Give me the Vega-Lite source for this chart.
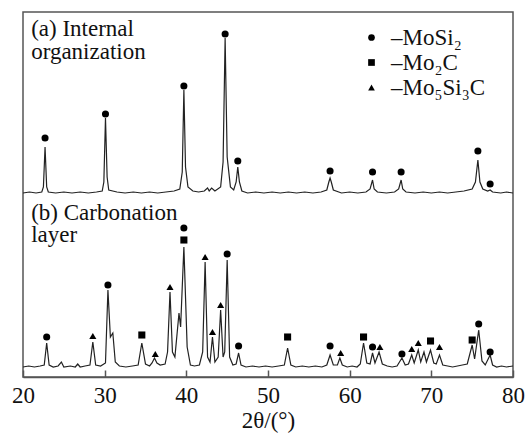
{
  "$schema": "https://vega.github.io/schema/vega-lite/v6.json",
  "width": 490,
  "height": 365,
  "autosize": "none",
  "padding": {"left": 23, "top": 12, "right": 17, "bottom": 57},
  "config": {
    "view": {"stroke": "#555", "strokeWidth": 1.5},
    "font": "Liberation Serif"
  },
  "datasets": {
    "tr": [
      {"s":"a","t":20.0,"i":184},{"s":"a","t":20.8,"i":185},{"s":"a","t":21.6,"i":184},{"s":"a","t":22.3,"i":185},{"s":"a","t":22.5,"i":190},{"s":"a","t":22.7,"i":230},{"s":"a","t":22.9,"i":190},{"s":"a","t":23.1,"i":185},{"s":"a","t":24,"i":184},{"s":"a","t":25,"i":185},{"s":"a","t":26,"i":184},{"s":"a","t":27,"i":185},{"s":"a","t":28,"i":184},{"s":"a","t":29,"i":185},{"s":"a","t":29.7,"i":186},{"s":"a","t":29.9,"i":195},{"s":"a","t":30.1,"i":259},{"s":"a","t":30.3,"i":200},{"s":"a","t":30.5,"i":187},{"s":"a","t":31.5,"i":185},{"s":"a","t":32.5,"i":184},{"s":"a","t":33.5,"i":185},{"s":"a","t":34.5,"i":184},{"s":"a","t":35.5,"i":185},{"s":"a","t":36.5,"i":184},{"s":"a","t":37.5,"i":185},{"s":"a","t":38.5,"i":186},{"s":"a","t":39.2,"i":188},{"s":"a","t":39.5,"i":205},{"s":"a","t":39.7,"i":287},{"s":"a","t":39.9,"i":210},{"s":"a","t":40.2,"i":190},{"s":"a","t":40.8,"i":186},{"s":"a","t":41.5,"i":185},{"s":"a","t":42.2,"i":186},{"s":"a","t":42.6,"i":189},{"s":"a","t":42.8,"i":186},{"s":"a","t":43.1,"i":189},{"s":"a","t":43.5,"i":186},{"s":"a","t":44.2,"i":190},{"s":"a","t":44.5,"i":215},{"s":"a","t":44.75,"i":339},{"s":"a","t":45.0,"i":220},{"s":"a","t":45.4,"i":190},{"s":"a","t":45.8,"i":187},{"s":"a","t":46.1,"i":195},{"s":"a","t":46.3,"i":210},{"s":"a","t":46.5,"i":195},{"s":"a","t":46.8,"i":186},{"s":"a","t":47.5,"i":184},{"s":"a","t":48.5,"i":185},{"s":"a","t":49.5,"i":184},{"s":"a","t":50.5,"i":185},{"s":"a","t":51.5,"i":184},{"s":"a","t":52.5,"i":185},{"s":"a","t":53.5,"i":184},{"s":"a","t":54.5,"i":185},{"s":"a","t":55.5,"i":184},{"s":"a","t":56.5,"i":185},{"s":"a","t":57.2,"i":187},{"s":"a","t":57.45,"i":195},{"s":"a","t":57.6,"i":199},{"s":"a","t":57.75,"i":195},{"s":"a","t":58.0,"i":187},{"s":"a","t":59,"i":184},{"s":"a","t":60,"i":185},{"s":"a","t":61,"i":184},{"s":"a","t":62,"i":185},{"s":"a","t":62.5,"i":188},{"s":"a","t":62.8,"i":197},{"s":"a","t":63.0,"i":188},{"s":"a","t":63.4,"i":185},{"s":"a","t":64.5,"i":184},{"s":"a","t":65.5,"i":185},{"s":"a","t":66.0,"i":188},{"s":"a","t":66.3,"i":197},{"s":"a","t":66.5,"i":188},{"s":"a","t":66.9,"i":185},{"s":"a","t":68,"i":184},{"s":"a","t":69,"i":185},{"s":"a","t":70,"i":184},{"s":"a","t":71,"i":185},{"s":"a","t":72,"i":184},{"s":"a","t":73,"i":185},{"s":"a","t":74,"i":186},{"s":"a","t":75.0,"i":188},{"s":"a","t":75.4,"i":195},{"s":"a","t":75.7,"i":217},{"s":"a","t":75.95,"i":195},{"s":"a","t":76.3,"i":188},{"s":"a","t":76.9,"i":186},{"s":"a","t":77.2,"i":187},{"s":"a","t":77.5,"i":185},{"s":"a","t":78.5,"i":184},{"s":"a","t":79.2,"i":185},{"s":"a","t":80,"i":184},
      {"s":"b","t":20,"i":10},{"s":"b","t":20.7,"i":11},{"s":"b","t":21.4,"i":10},{"s":"b","t":22.1,"i":11},{"s":"b","t":22.6,"i":12},{"s":"b","t":22.9,"i":34},{"s":"b","t":23.2,"i":12},{"s":"b","t":23.7,"i":10},{"s":"b","t":24.3,"i":11},{"s":"b","t":24.7,"i":15},{"s":"b","t":25.0,"i":10},{"s":"b","t":25.8,"i":11},{"s":"b","t":26.4,"i":10},{"s":"b","t":26.7,"i":13},{"s":"b","t":27.0,"i":10},{"s":"b","t":27.6,"i":11},{"s":"b","t":28.2,"i":12},{"s":"b","t":28.55,"i":35},{"s":"b","t":28.9,"i":12},{"s":"b","t":29.5,"i":11},{"s":"b","t":30.1,"i":14},{"s":"b","t":30.4,"i":87},{"s":"b","t":30.7,"i":40},{"s":"b","t":31.0,"i":44},{"s":"b","t":31.3,"i":15},{"s":"b","t":31.8,"i":11},{"s":"b","t":32.6,"i":10},{"s":"b","t":33.4,"i":11},{"s":"b","t":34.1,"i":12},{"s":"b","t":34.55,"i":34},{"s":"b","t":35.0,"i":13},{"s":"b","t":35.5,"i":11},{"s":"b","t":35.8,"i":14},{"s":"b","t":36.1,"i":19},{"s":"b","t":36.4,"i":14},{"s":"b","t":36.8,"i":12},{"s":"b","t":37.4,"i":13},{"s":"b","t":37.7,"i":25},{"s":"b","t":38.0,"i":85},{"s":"b","t":38.3,"i":25},{"s":"b","t":38.6,"i":20},{"s":"b","t":39.0,"i":55},{"s":"b","t":39.1,"i":64},{"s":"b","t":39.3,"i":50},{"s":"b","t":39.7,"i":130},{"s":"b","t":40.1,"i":30},{"s":"b","t":40.5,"i":12},{"s":"b","t":41.0,"i":11},{"s":"b","t":41.6,"i":12},{"s":"b","t":42.0,"i":25},{"s":"b","t":42.3,"i":115},{"s":"b","t":42.6,"i":20},{"s":"b","t":42.9,"i":15},{"s":"b","t":43.2,"i":40},{"s":"b","t":43.5,"i":15},{"s":"b","t":43.9,"i":20},{"s":"b","t":44.2,"i":67},{"s":"b","t":44.5,"i":20},{"s":"b","t":44.7,"i":25},{"s":"b","t":45.0,"i":117},{"s":"b","t":45.3,"i":20},{"s":"b","t":45.7,"i":12},{"s":"b","t":46.1,"i":13},{"s":"b","t":46.4,"i":24},{"s":"b","t":46.7,"i":12},{"s":"b","t":47.3,"i":10},{"s":"b","t":48.1,"i":11},{"s":"b","t":48.9,"i":10},{"s":"b","t":49.7,"i":11},{"s":"b","t":50.5,"i":10},{"s":"b","t":51.3,"i":11},{"s":"b","t":52.0,"i":12},{"s":"b","t":52.4,"i":29},{"s":"b","t":52.8,"i":12},{"s":"b","t":53.4,"i":10},{"s":"b","t":54.2,"i":11},{"s":"b","t":55.0,"i":10},{"s":"b","t":55.8,"i":11},{"s":"b","t":56.6,"i":10},{"s":"b","t":57.2,"i":12},{"s":"b","t":57.6,"i":22},{"s":"b","t":58.0,"i":12},{"s":"b","t":58.5,"i":12},{"s":"b","t":58.8,"i":19},{"s":"b","t":59.1,"i":12},{"s":"b","t":59.7,"i":10},{"s":"b","t":60.3,"i":11},{"s":"b","t":60.9,"i":10},{"s":"b","t":61.3,"i":13},{"s":"b","t":61.7,"i":34},{"s":"b","t":62.1,"i":14},{"s":"b","t":62.5,"i":13},{"s":"b","t":62.8,"i":24},{"s":"b","t":63.1,"i":14},{"s":"b","t":63.6,"i":25},{"s":"b","t":64.0,"i":13},{"s":"b","t":64.6,"i":11},{"s":"b","t":65.2,"i":10},{"s":"b","t":65.8,"i":11},{"s":"b","t":66.4,"i":19},{"s":"b","t":66.8,"i":12},{"s":"b","t":67.2,"i":13},{"s":"b","t":67.6,"i":22},{"s":"b","t":67.9,"i":14},{"s":"b","t":68.4,"i":27},{"s":"b","t":68.7,"i":15},{"s":"b","t":69.1,"i":25},{"s":"b","t":69.4,"i":15},{"s":"b","t":69.9,"i":27},{"s":"b","t":70.3,"i":14},{"s":"b","t":70.6,"i":13},{"s":"b","t":71.0,"i":22},{"s":"b","t":71.4,"i":12},{"s":"b","t":72.0,"i":11},{"s":"b","t":72.6,"i":10},{"s":"b","t":73.2,"i":11},{"s":"b","t":73.8,"i":12},{"s":"b","t":74.4,"i":13},{"s":"b","t":75.0,"i":32},{"s":"b","t":75.3,"i":18},{"s":"b","t":75.8,"i":47},{"s":"b","t":76.2,"i":16},{"s":"b","t":76.6,"i":12},{"s":"b","t":77.2,"i":22},{"s":"b","t":77.5,"i":12},{"s":"b","t":78.0,"i":10},{"s":"b","t":78.6,"i":11},{"s":"b","t":79.2,"i":10},{"s":"b","t":80,"i":11}
    ],
    "pk": [
      {"t":22.7,"i":239,"p":"MoSi₂"},{"t":30.1,"i":263,"p":"MoSi₂"},{"t":39.7,"i":291,"p":"MoSi₂"},{"t":44.75,"i":343,"p":"MoSi₂"},{"t":46.3,"i":216,"p":"MoSi₂"},{"t":57.6,"i":206,"p":"MoSi₂"},{"t":62.8,"i":205,"p":"MoSi₂"},{"t":66.3,"i":205,"p":"MoSi₂"},{"t":75.7,"i":226,"p":"MoSi₂"},{"t":77.2,"i":193,"p":"MoSi₂"},
      {"t":22.9,"i":40,"p":"MoSi₂"},{"t":28.55,"i":41,"p":"Mo₅Si₃C"},{"t":30.4,"i":92,"p":"MoSi₂"},{"t":34.55,"i":42,"p":"Mo₂C"},{"t":36.2,"i":23,"p":"Mo₅Si₃C"},{"t":38.0,"i":90,"p":"Mo₅Si₃C"},{"t":39.7,"i":137,"p":"Mo₂C"},{"t":39.7,"i":149,"p":"MoSi₂"},{"t":42.3,"i":120,"p":"Mo₅Si₃C"},{"t":43.2,"i":45,"p":"Mo₅Si₃C"},{"t":44.2,"i":72,"p":"Mo₅Si₃C"},{"t":45.0,"i":123,"p":"MoSi₂"},{"t":46.4,"i":31,"p":"MoSi₂"},{"t":52.4,"i":40,"p":"Mo₂C"},{"t":57.6,"i":31,"p":"MoSi₂"},{"t":58.9,"i":24,"p":"Mo₅Si₃C"},{"t":61.7,"i":40,"p":"Mo₂C"},{"t":62.8,"i":30,"p":"MoSi₂"},{"t":63.7,"i":30,"p":"Mo₅Si₃C"},{"t":66.4,"i":23,"p":"MoSi₂"},{"t":67.6,"i":28,"p":"Mo₅Si₃C"},{"t":68.4,"i":34,"p":"Mo₅Si₃C"},{"t":69.9,"i":36,"p":"Mo₂C"},{"t":71.0,"i":30,"p":"Mo₅Si₃C"},{"t":75.0,"i":37,"p":"Mo₂C"},{"t":75.8,"i":53,"p":"MoSi₂"},{"t":77.2,"i":25,"p":"MoSi₂"}
    ],
    "lab": [
      {"t":21.0,"i":348,"txt":"(a) Internal"},
      {"t":21.0,"i":325,"txt":"organization"},
      {"t":21.0,"i":164,"txt":"(b) Carbonation"},
      {"t":21.0,"i":142,"txt":"layer"}
    ]
  },
  "layer": [
    {
      "data": {"name": "tr"},
      "mark": {"type": "line", "color": "#222", "strokeWidth": 1.2, "interpolate": "linear"},
      "encoding": {
        "x": {"field": "t", "type": "quantitative", "scale": {"domain": [20, 80], "nice": false, "zero": false},
          "axis": {"values": [20, 30, 40, 50, 60, 70, 80], "labelFlush": false, "labelOverlap": false, "title": "2θ/(°)", "titleFont": "Liberation Serif", "titleFontSize": 23, "titleFontWeight": "normal", "titleColor": "#111", "titlePadding": 2,
            "labelFont": "Liberation Serif", "labelFontSize": 23, "labelColor": "#111", "labelPadding": 14, "tickSize": -7, "tickOffset": 0, "domainColor": "#555", "domainWidth": 1.5, "tickColor": "#555", "tickWidth": 1.5, "grid": false}},
        "y": {"field": "i", "type": "quantitative", "scale": {"domain": [0, 365], "nice": false, "zero": false}, "axis": null},
        "detail": {"field": "s"}
      }
    },
    {
      "data": {"name": "pk"},
      "mark": {"type": "point", "filled": true, "color": "black", "opacity": 1, "size": 50},
      "encoding": {
        "x": {"field": "t", "type": "quantitative"},
        "y": {"field": "i", "type": "quantitative"},
        "shape": {"field": "p", "type": "nominal",
          "scale": {"domain": ["MoSi₂", "Mo₂C", "Mo₅Si₃C"], "range": ["circle", "square", "triangle-up"]},
          "legend": {"orient": "none", "legendX": 337, "legendY": 14, "title": null, "padding": 0,
            "labelFont": "Liberation Serif", "labelFontSize": 23, "labelColor": "#111", "labelOffset": 8, "rowPadding": 1,
            "symbolSize": 45, "symbolFillColor": "black", "symbolStrokeColor": "black", "symbolStrokeWidth": 0,
            "labelExpr": "'–' + datum.label"}}
      }
    },
    {
      "data": {"name": "lab"},
      "mark": {"type": "text", "align": "left", "baseline": "middle", "font": "Liberation Serif", "fontSize": 23, "color": "#111"},
      "encoding": {
        "x": {"field": "t", "type": "quantitative"},
        "y": {"field": "i", "type": "quantitative"},
        "text": {"field": "txt"}
      }
    }
  ]
}
